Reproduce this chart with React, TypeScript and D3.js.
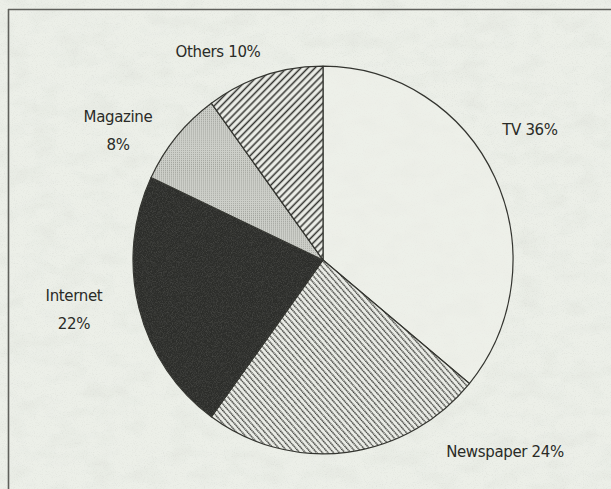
import React from "react";
import * as d3 from "d3";

const categories = ["TV", "Newspaper", "Internet", "Magazine", "Others"];
const values = [36, 24, 22, 8, 10];
const labelLines = [["TV 36%"], ["Newspaper 24%"], ["Internet", "22%"], ["Magazine", "8%"], ["Others 10%"]];

// label anchor layout (center x, first-line center y), line gap
const labelLayout = [
  { x: 530, y: 130 },
  { x: 505, y: 452 },
  { x: 74, y: 296 },
  { x: 118, y: 117 },
  { x: 218, y: 52 },
];
const lineGap = 28;

const fills = ["url(#tvFill)", "url(#newsHatch)", "url(#internetFill)", "url(#magDots)", "url(#othersHatch)"];

const W = 611;
const H = 489;
const cx = 323;
const cy = 260;
const R = 190;

export default function App() {
  const pie = d3
    .pie<number>()
    .sort(null)
    .value((d) => d)
    .startAngle(0)
    .endAngle(2 * Math.PI);
  const arcs = pie(values);
  const arcGen = d3.arc<d3.PieArcDatum<number>>().innerRadius(0).outerRadius(R);

  return (
    <svg
      width={W}
      height={H}
      style={{ position: "absolute", left: 0, top: 0 }}
      fontFamily="'DejaVu Sans', sans-serif"
    >
      <defs>
        <filter id="paperNoise" x="0" y="0" width="100%" height="100%">
          <feTurbulence type="fractalNoise" baseFrequency="0.9" numOctaves="2" seed="3" result="n" />
          <feColorMatrix
            in="n"
            type="matrix"
            values="0 0 0 0 0.55  0 0 0 0 0.57  0 0 0 0 0.53  0 0 0 1.2 -0.62"
          />
        </filter>
        <filter id="blotch" x="0" y="0" width="100%" height="100%">
          <feTurbulence type="fractalNoise" baseFrequency="0.035 0.06" numOctaves="3" seed="7" result="n" />
          <feColorMatrix
            in="n"
            type="matrix"
            values="0 0 0 0 0.6  0 0 0 0 0.62  0 0 0 0 0.58  0 0 0 0.9 -0.4"
          />
        </filter>
        <filter id="darkNoise" x="0" y="0" width="100%" height="100%">
          <feTurbulence type="fractalNoise" baseFrequency="1.2" numOctaves="1" seed="11" result="n" />
          <feColorMatrix
            in="n"
            type="matrix"
            values="0 0 0 0 0.35  0 0 0 0 0.35  0 0 0 0 0.33  0 0 0 0.9 -0.35"
          />
        </filter>
        <pattern id="tvFill" width="10" height="10" patternUnits="userSpaceOnUse">
          <rect width="10" height="10" fill="#eef0ea" fillOpacity={0.6} />
        </pattern>
        <pattern
          id="newsHatch"
          width="6"
          height="4.2"
          patternUnits="userSpaceOnUse"
          patternTransform="rotate(48)"
        >
          <rect width="6" height="4.2" fill="#e9ebe5" />
          <line x1="0" y1="1" x2="6" y2="1" stroke="#3e3f3b" strokeWidth="1.5" strokeDasharray="1.4 0.6" />
        </pattern>
        <pattern
          id="othersHatch"
          width="8"
          height="5"
          patternUnits="userSpaceOnUse"
          patternTransform="rotate(-45)"
        >
          <rect width="8" height="5" fill="#eaece6" />
          <line x1="0" y1="1.2" x2="8" y2="1.2" stroke="#353632" strokeWidth="1.5" />
        </pattern>
        <pattern id="magDots" width="2" height="2" patternUnits="userSpaceOnUse">
          <rect width="2" height="2" fill="#cdcfc9" />
          <rect width="1" height="1" fill="#a3a59f" />
        </pattern>
        <pattern id="internetFill" width="10" height="10" patternUnits="userSpaceOnUse">
          <rect width="10" height="10" fill="#2c2d2a" />
        </pattern>
        <clipPath id="internetClip">
          <path d={arcGen(arcs[2]) || ""} transform={`translate(${cx},${cy}) scale(1,1.02)`} />
        </clipPath>
      </defs>

      <rect x={0} y={0} width={W} height={H} fill="#ecefe8" />
      <rect x={0} y={0} width={W} height={H} filter="url(#blotch)" opacity={0.45} />
      <rect x={0} y={0} width={W} height={H} filter="url(#paperNoise)" opacity={0.55} />

      {/* frame */}
      <line x1={8} y1={9.5} x2={W} y2={9.5} stroke="#5f605b" strokeWidth={1.6} />
      <line x1={8.5} y1={9} x2={8.5} y2={H} stroke="#5f605b" strokeWidth={1.6} />

      <g transform={`translate(${cx},${cy}) scale(1,1.02)`}>
        {arcs.map((a, i) => (
          <path
            key={categories[i]}
            d={arcGen(a) || ""}
            fill={fills[i]}
            stroke="#33342f"
            strokeWidth={1.2}
            strokeLinejoin="round"
          />
        ))}
      </g>
      <g clipPath="url(#internetClip)">
        <rect x={0} y={0} width={W} height={H} filter="url(#darkNoise)" opacity={0.6} />
      </g>

      {labelLines.map((lines, i) => (
        <text
          key={categories[i]}
          x={labelLayout[i].x}
          y={labelLayout[i].y}
          textAnchor="middle"
          dominantBaseline="central"
          fontSize={15}
          letterSpacing={-0.35}
          fill="#2a2b27"
        >
          {lines.map((t, j) => (
            <tspan key={j} x={labelLayout[i].x} y={labelLayout[i].y + j * lineGap}>
              {t}
            </tspan>
          ))}
        </text>
      ))}
    </svg>
  );
}
